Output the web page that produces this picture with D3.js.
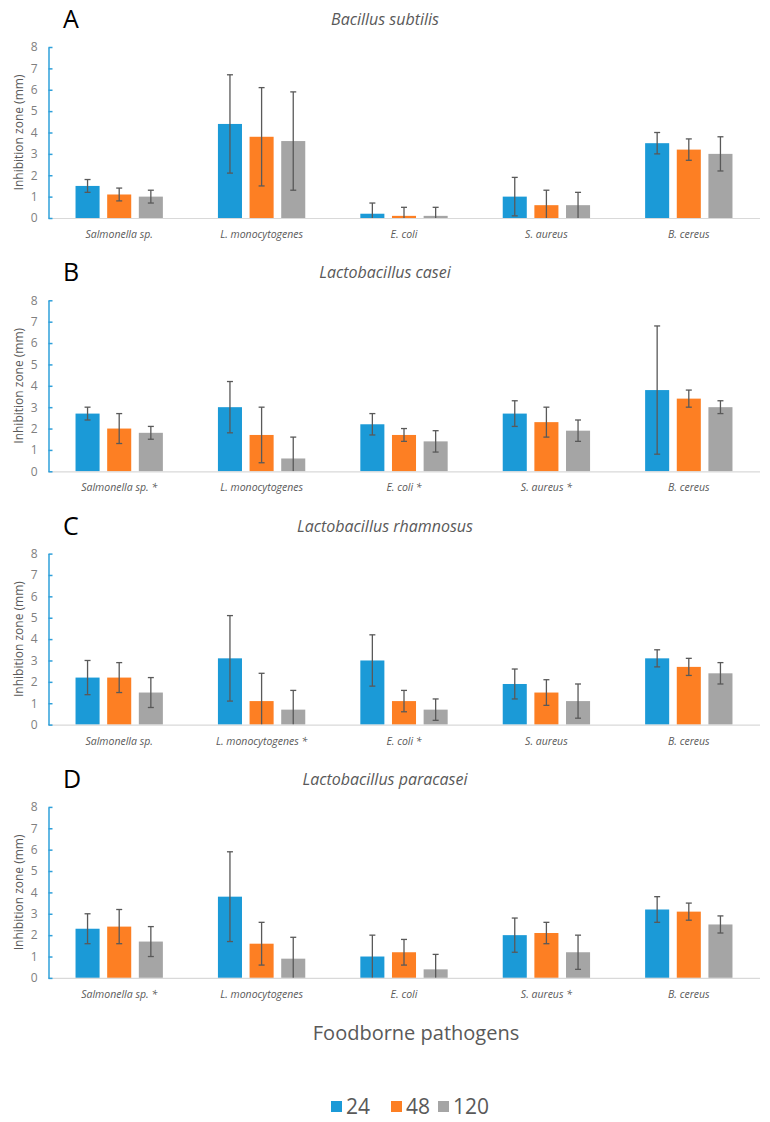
<!DOCTYPE html>
<html>
<head>
<meta charset="utf-8">
<script src="https://cdn.jsdelivr.net/npm/d3@7"></script>
<style>
  body { margin: 0; background: #fff; }
  text { font-family: "Open Sans", "Noto Sans", sans-serif; }
</style>
</head>
<body>
<svg id="chart"></svg>
<script>
const seriesNames = ['24', '48', '120'];
const seriesColors = ['#1b9ad7', '#fd7f23', '#a5a5a5'];
const yTicks = [0, 1, 2, 3, 4, 5, 6, 7, 8];

const panelLetters = ['A', 'B', 'C', 'D'];
const panelTitles = ['Bacillus subtilis', 'Lactobacillus casei', 'Lactobacillus rhamnosus', 'Lactobacillus paracasei'];

const labelsA = ['Salmonella sp.', 'L. monocytogenes', 'E. coli', 'S. aureus', 'B. cereus'];
const labelsB = ['Salmonella sp. *', 'L. monocytogenes', 'E. coli *', 'S. aureus *', 'B. cereus'];
const labelsC = ['Salmonella sp.', 'L. monocytogenes *', 'E. coli *', 'S. aureus', 'B. cereus'];
const labelsD = ['Salmonella sp. *', 'L. monocytogenes', 'E. coli', 'S. aureus *', 'B. cereus'];

// means per series (24, 48, 120 h)
const meansA = [[1.5, 4.4, 0.2, 1.0, 3.5], [1.1, 3.8, 0.1, 0.6, 3.2], [1.0, 3.6, 0.1, 0.6, 3.0]];
const errorsA = [[0.3, 2.3, 0.5, 0.9, 0.5], [0.3, 2.3, 0.4, 0.7, 0.5], [0.3, 2.3, 0.4, 0.6, 0.8]];
const meansB = [[2.7, 3.0, 2.2, 2.7, 3.8], [2.0, 1.7, 1.7, 2.3, 3.4], [1.8, 0.6, 1.4, 1.9, 3.0]];
const errorsB = [[0.3, 1.2, 0.5, 0.6, 3.0], [0.7, 1.3, 0.3, 0.7, 0.4], [0.3, 1.0, 0.5, 0.5, 0.3]];
const meansC = [[2.2, 3.1, 3.0, 1.9, 3.1], [2.2, 1.1, 1.1, 1.5, 2.7], [1.5, 0.7, 0.7, 1.1, 2.4]];
const errorsC = [[0.8, 2.0, 1.2, 0.7, 0.4], [0.7, 1.3, 0.5, 0.6, 0.4], [0.7, 0.9, 0.5, 0.8, 0.5]];
const meansD = [[2.3, 3.8, 1.0, 2.0, 3.2], [2.4, 1.6, 1.2, 2.1, 3.1], [1.7, 0.9, 0.4, 1.2, 2.5]];
const errorsD = [[0.7, 2.1, 1.0, 0.8, 0.6], [0.8, 1.0, 0.6, 0.5, 0.4], [0.7, 1.0, 0.7, 0.8, 0.4]];

const panels = [
  {labels: labelsA, means: meansA, errors: errorsA},
  {labels: labelsB, means: meansB, errors: errorsB},
  {labels: labelsC, means: meansC, errors: errorsC},
  {labels: labelsD, means: meansD, errors: errorsD},
];

const width = 770;
const height = 1122;
const left = 48;
const right = 760;
const plotHeight = 171;
const firstZero = 218;
const panelStep = 253.3;

const svg = d3.select('#chart')
    .attr('width', width)
    .attr('height', height);

panels.forEach(function(panel, p) {
  const zero = firstZero + p * panelStep;
  const g = svg.append('g');

  const x0 = d3.scaleBand()
      .domain(panel.labels)
      .range([left, right]);
  const x1 = d3.scaleBand()
      .domain(seriesNames)
      .range([0, x0.bandwidth()])
      .paddingInner(0.24)
      .paddingOuter(0.87);
  const y = d3.scaleLinear()
      .domain([0, 8])
      .range([zero, zero - plotHeight]);

  // panel letter and title
  g.append('text')
      .attr('x', 63)
      .attr('y', zero - 190)
      .attr('font-size', 25)
      .attr('fill', '#000')
      .text(panelLetters[p]);
  g.append('text')
      .attr('x', 385)
      .attr('y', zero - 193)
      .attr('text-anchor', 'middle')
      .attr('font-size', 16)
      .attr('font-style', 'italic')
      .attr('fill', '#595959')
      .text(panelTitles[p]);

  // bars
  seriesNames.forEach(function(s, si) {
    const rows = panel.labels.map(function(label, i) {
      return {label: label, value: panel.means[si][i], err: panel.errors[si][i]};
    });
    g.selectAll('.bar-' + si)
        .data(rows)
        .enter().append('rect')
        .attr('class', 'bar-' + si)
        .attr('x', function(d) {
          return x0(d.label) + x1(s);
        })
        .attr('y', function(d) {
          return y(d.value);
        })
        .attr('width', x1.bandwidth())
        .attr('height', function(d) {
          return y(0) - y(d.value);
        })
        .attr('fill', seriesColors[si]);

    const errs = g.selectAll('.err-' + si)
        .data(rows)
        .enter().append('g')
        .attr('class', 'err-' + si)
        .attr('stroke', '#595959')
        .attr('stroke-width', 1.3);
    errs.append('line')
        .attr('x1', function(d) {
          return x0(d.label) + x1(s) + x1.bandwidth() / 2;
        })
        .attr('x2', function(d) {
          return x0(d.label) + x1(s) + x1.bandwidth() / 2;
        })
        .attr('y1', function(d) {
          return y(d.value + d.err);
        })
        .attr('y2', function(d) {
          return y(Math.max(0, d.value - d.err));
        });
    errs.append('line')
        .attr('x1', function(d) {
          return x0(d.label) + x1(s) + x1.bandwidth() / 2 - 3;
        })
        .attr('x2', function(d) {
          return x0(d.label) + x1(s) + x1.bandwidth() / 2 + 3;
        })
        .attr('y1', function(d) {
          return y(d.value + d.err);
        })
        .attr('y2', function(d) {
          return y(d.value + d.err);
        });
    errs.filter(function(d) {
      return d.value - d.err > 0;
    }).append('line')
        .attr('x1', function(d) {
          return x0(d.label) + x1(s) + x1.bandwidth() / 2 - 3;
        })
        .attr('x2', function(d) {
          return x0(d.label) + x1(s) + x1.bandwidth() / 2 + 3;
        })
        .attr('y1', function(d) {
          return y(d.value - d.err);
        })
        .attr('y2', function(d) {
          return y(d.value - d.err);
        });
  });

  // x baseline and category labels
  g.append('line')
      .attr('x1', left)
      .attr('x2', right)
      .attr('y1', zero + 0.5)
      .attr('y2', zero + 0.5)
      .attr('stroke', '#d9d9d9')
      .attr('stroke-width', 1.2);
  g.selectAll('.cat')
      .data(panel.labels)
      .enter().append('text')
      .attr('class', 'cat')
      .attr('x', function(d) {
        return x0(d) + x0.bandwidth() / 2;
      })
      .attr('y', zero + 20)
      .attr('text-anchor', 'middle')
      .attr('font-size', 10.5)
      .attr('font-style', 'italic')
      .attr('fill', '#595959')
      .text(function(d) {
        return d;
      });

  // y axis
  const yAxis = g.append('g')
      .attr('transform', 'translate(' + (left + 0.5) + ',0)')
      .call(d3.axisRight(y).tickValues(yTicks).tickSize(4).tickSizeOuter(0));
  yAxis.select('.domain').attr('stroke', '#2fa0da').attr('stroke-width', 1.5);
  yAxis.selectAll('.tick line').attr('stroke', '#2fa0da').attr('stroke-width', 1.5);
  yAxis.selectAll('.tick text')
      .attr('x', -11)
      .attr('text-anchor', 'end')
      .attr('font-size', 12)
      .attr('font-family', '"Open Sans", "Noto Sans", sans-serif')
      .attr('fill', '#7f7f7f');

  g.append('text')
      .attr('transform', 'translate(23,' + (zero - plotHeight / 2) + ') rotate(-90)')
      .attr('text-anchor', 'middle')
      .attr('font-size', 12)
      .attr('fill', '#595959')
      .text('Inhibition zone (mm)');
});

svg.append('text')
    .attr('x', 416)
    .attr('y', 1040)
    .attr('text-anchor', 'middle')
    .attr('font-size', 20)
    .attr('fill', '#595959')
    .text('Foodborne pathogens');

// legend
const legend = svg.append('g');
const legendX = [331, 391, 438];
seriesNames.forEach(function(s, i) {
  legend.append('rect')
      .attr('x', legendX[i])
      .attr('y', 1101)
      .attr('width', 11)
      .attr('height', 11)
      .attr('fill', seriesColors[i]);
  legend.append('text')
      .attr('x', legendX[i] + 15)
      .attr('y', 1114)
      .attr('font-size', 21)
      .attr('fill', '#595959')
      .text(s);
});
</script>
</body>
</html>
